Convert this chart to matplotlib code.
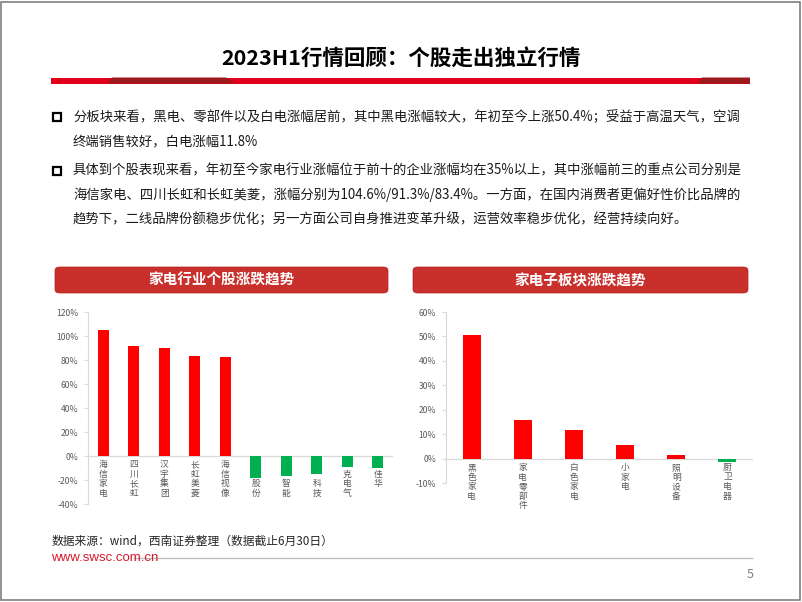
import matplotlib
matplotlib.use("Agg")
import matplotlib.pyplot as plt
from matplotlib.patches import Rectangle, Polygon, FancyBboxPatch
from matplotlib.ticker import FuncFormatter

plt.rcParams['font.family'] = ['Noto Sans CJK SC', 'DejaVu Sans']

# data (leading blanks = characters hidden behind the green bars in the original)
stock_names = ["海信家电", "四川长虹", "汉宇集团", "长虹美菱", "海信视像",
               "  股份", "  智能", "  科技", " 克电气", " 佳华"]
stock_chg = [104.6, 91.3, 89.8, 83.4, 82.3, -18.6, -16.7, -15.0, -8.9, -9.7]

sector_names = ["黑色家电", "家电零部件", "白色家电", "小家电", "照明设备", "厨卫电器"]
sector_chg = [50.4, 15.8, 11.8, 5.6, 1.4, -1.3]

title = "2023H1行情回顾：个股走出独立行情"
bullet_lines = [
    ["分板块来看，黑电、零部件以及白电涨幅居前，其中黑电涨幅较大，年初至今上涨50.4%；受益于高温天气，空调",
     "终端销售较好，白电涨幅11.8%"],
    ["具体到个股表现来看，年初至今家电行业涨幅位于前十的企业涨幅均在35%以上，其中涨幅前三的重点公司分别是",
     "海信家电、四川长虹和长虹美菱，涨幅分别为104.6%/91.3%/83.4%。一方面，在国内消费者更偏好性价比品牌的",
     "趋势下，二线品牌份额稳步优化；另一方面公司自身推进变革升级，运营效率稳步优化，经营持续向好。"]]
source = "数据来源：wind，西南证券整理（数据截止6月30日）"

RED = '#ff0000'
GREEN = '#00b050'
W, H = 802, 602

fig = plt.figure(figsize=(W / 100, H / 100), dpi=100)
fig.patch.set_facecolor('white')


def fx(x):
    return x / W


def fy(y):
    return 1 - y / H


# slide border
fig.add_artist(Rectangle((fx(1), fy(600)), fx(799), 598 / H, transform=fig.transFigure,
                         fill=False, edgecolor='#7f7f7f', linewidth=1.2))

# title and red rule
fig.text(fx(401), fy(58), title, ha='center', va='center', fontsize=15.5, fontweight='bold', color='black')
fig.add_artist(Rectangle((fx(51), fy(83.5)), fx(699), 6 / H, transform=fig.transFigure,
                         facecolor='#e0001b', edgecolor='none'))
fig.add_artist(Polygon([(fx(108), fy(83.5)), (fx(112), fy(77.5)), (fx(226), fy(77.5)), (fx(234), fy(83.5))],
                       closed=True, transform=fig.transFigure, facecolor='#9c1a1c', edgecolor='none'))
fig.add_artist(Polygon([(fx(698), fy(83.5)), (fx(702), fy(77.5)), (fx(750), fy(77.5)), (fx(750), fy(83.5))],
                       closed=True, transform=fig.transFigure, facecolor='#9c1a1c', edgecolor='none'))

# bullets
y = 117
for block in bullet_lines:
    fig.add_artist(Rectangle((fx(53), fy(y + 4)), fx(8), 8 / H, transform=fig.transFigure,
                             fill=False, edgecolor='black', linewidth=1.6))
    for line in block:
        fig.text(fx(73), fy(y), line, ha='left', va='center', fontsize=9.6, color='#1a1a1a')
        y += 24.5
    y += 4.5

# section headers
for x0, x1, txt in [(55, 388, "家电行业个股涨跌趋势"), (413, 748, "家电子板块涨跌趋势")]:
    fig.add_artist(FancyBboxPatch((fx(x0), fy(293)), fx(x1 - x0), 26 / H, transform=fig.transFigure,
                                  boxstyle="round,pad=0,rounding_size=0.006",
                                  facecolor='#c9302c', edgecolor='#b02020', linewidth=0.5))
    fig.text(fx((x0 + x1) / 2), fy(280), txt, ha='center', va='center', fontsize=10.5,
             fontweight='bold', color='white')

pct = FuncFormatter(lambda v, p: f"{v:.0f}%")


def bar_chart(ax, names, vals, ylim, step):
    colors = [RED if v >= 0 else GREEN for v in vals]
    ax.bar(range(len(vals)), vals, width=0.35, color=colors, zorder=3)
    ax.set_xlim(-0.5, len(vals) - 0.5)
    ax.set_ylim(*ylim)
    ax.set_yticks(range(ylim[0], ylim[1] + 1, step))
    ax.yaxis.set_major_formatter(pct)
    ax.axhline(0, color='#d9d9d9', linewidth=0.9, zorder=2)
    for s in ['top', 'right', 'bottom']:
        ax.spines[s].set_visible(False)
    ax.spines['left'].set_color('#d9d9d9')
    ax.tick_params(axis='y', labelsize=6.2, labelcolor='#595959', length=3, color='#d9d9d9', pad=4)
    ax.set_xticks([])
    # vertical, one character per line
    for i, n in enumerate(names):
        lab = "\n".join("" if c == " " else c for c in n)
        ax.annotate(lab, xy=(i, 0), xytext=(0, -3), textcoords='offset points',
                    ha='center', va='top', fontsize=6.3, color='#595959', linespacing=1.08)
    ax.set_facecolor('none')


ax1 = fig.add_axes([fx(88), fy(504), fx(393 - 88), (504 - 312) / H])
bar_chart(ax1, stock_names, stock_chg, (-40, 120), 20)

ax2 = fig.add_axes([fx(446), fy(483.3), fx(753 - 446), (483.3 - 312) / H])
bar_chart(ax2, sector_names, sector_chg, (-10, 60), 10)

# footer
fig.text(fx(52), fy(541), source, ha='left', va='center', fontsize=8.5, style='italic', color='#262626')
fig.text(fx(51), fy(558), "www.swsc.com.cn", ha='left', va='center', fontsize=9.5,
         family='Liberation Sans', color='#d7182a')
fig.add_artist(plt.Line2D([fx(134), fx(752)], [fy(558), fy(558)], transform=fig.transFigure,
                          color='#bfbfbf', linewidth=1))
fig.text(fx(750), fy(575), "5", ha='center', va='center', fontsize=9, color='#7f7f7f')

fig.savefig("out.png", dpi=100, facecolor='white')
